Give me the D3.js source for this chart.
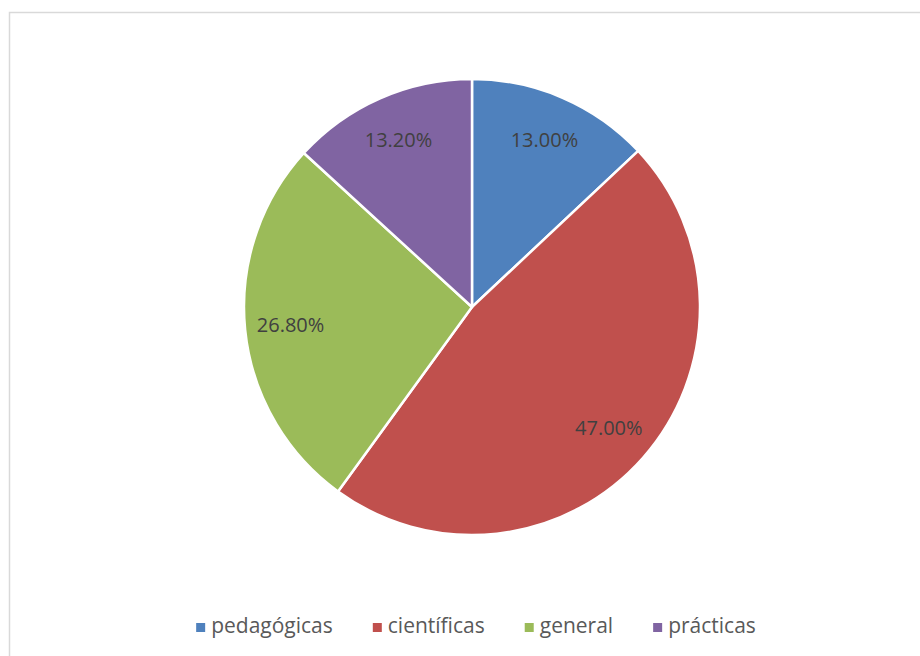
<!DOCTYPE html>
<meta charset="utf-8">
<script src="https://d3js.org/d3.v7.min.js"></script>
<style>
body {margin: 0; background: #fff;}
.label {text-anchor: middle; fill: #404040; font-size: 20px; font-family: "Open Sans", sans-serif;}
.legend-text {fill: #595959; font-size: 21px; font-family: "Open Sans", sans-serif;}
</style>
<div id="vis"></div>
<script>

// Data
const categories = ["pedagógicas", "científicas", "general", "prácticas"];
const values = [13.0, 47.0, 26.8, 13.2];
const colors = ["#4F81BD", "#C0504D", "#9BBB59", "#8064A2"];

const w = 920, h = 656;
const cx = 472, cy = 307, radius = 228;

let svg = d3.select("#vis")
  .append("svg")
  .attr("width", w)
  .attr("height", h);

// chart frame
svg.append("rect")
  .attr("x", 9.5)
  .attr("y", 12.5)
  .attr("width", w)
  .attr("height", h)
  .attr("fill", "#fff")
  .attr("stroke", "#d9d9d9")
  .attr("stroke-width", 1.5);

let data = categories.map((c, i) => ({name: c, value: values[i], color: colors[i]}));

let pie = d3.pie().sort(null).value(d => d.value);
let arc = d3.arc().innerRadius(0).outerRadius(radius);
let labelArc = d3.arc().innerRadius(radius * 0.8).outerRadius(radius * 0.8);

let g = svg.append("g")
  .attr("transform", "translate(" + cx + "," + cy + ")");

let arcs = pie(data);

g.selectAll(".slice")
  .data(arcs)
  .enter().append("path")
    .attr("class", "slice")
    .attr("d", arc)
    .attr("fill", d => d.data.color)
    .attr("stroke", "#fff")
    .attr("stroke-width", 2.5)
    .attr("stroke-linejoin", "round");

g.selectAll(".label")
  .data(arcs)
  .enter().append("text")
    .attr("class", "label")
    .attr("transform", d => "translate(" + labelArc.centroid(d) + ")")
    .attr("dy", "0.35em")
    .text(d => d.data.value.toFixed(2) + "%");

// Legend, laid out from measured text widths
let legend = svg.append("g");
let items = legend.selectAll(".item")
  .data(data)
  .enter().append("g")
    .attr("class", "item");

items.append("rect")
  .attr("width", 9)
  .attr("height", 9)
  .attr("y", -10)
  .attr("fill", d => d.color);

items.append("text")
  .attr("class", "legend-text")
  .attr("x", 15)
  .attr("y", 0)
  .text(d => d.name);

let gap = 40;
let xPos = 0;
items.each(function() {
  let tw = d3.select(this).select("text").node().getComputedTextLength();
  d3.select(this).attr("transform", "translate(" + xPos + ",0)");
  xPos += 15 + tw + gap;
});
let total = xPos - gap;
legend.attr("transform", "translate(" + (476 - total / 2) + ",633)");

</script>
